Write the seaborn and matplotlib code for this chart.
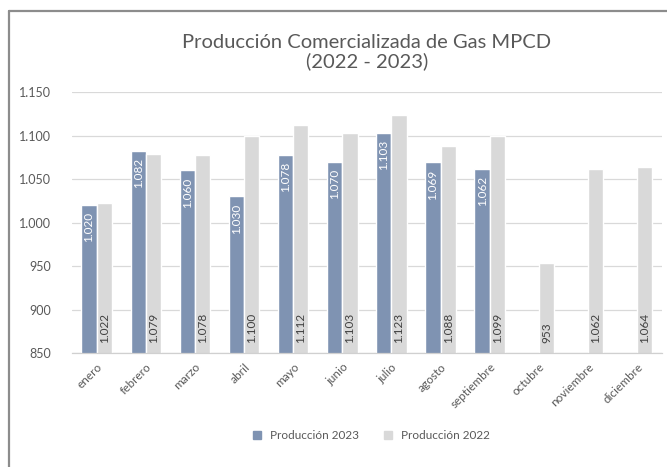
import numpy as np
import pandas as pd
import matplotlib
matplotlib.use("Agg")
import matplotlib.pyplot as plt
from matplotlib.lines import Line2D
import seaborn as sns

# data
months = ["enero", "febrero", "marzo", "abril", "mayo", "junio", "julio",
          "agosto", "septiembre", "octubre", "noviembre", "diciembre"]
prod_2023 = [1020, 1082, 1060, 1030, 1078, 1070, 1103, 1069, 1062,
             np.nan, np.nan, np.nan]
prod_2022 = [1022, 1079, 1078, 1100, 1112, 1103, 1123, 1088, 1099,
             953, 1062, 1064]
series = ["Producción 2023", "Producción 2022"]
yticks = [850, 900, 950, 1000, 1050, 1100, 1150]

blue = "#7f93b2"
grey = "#d9d9d9"
text_c = "#595959"


def fmt(v):
    # spanish thousands separator
    return f"{int(v):,}".replace(",", ".")


df = pd.DataFrame({
    "mes": months * 2,
    "valor": prod_2023 + prod_2022,
    "serie": [series[0]] * 12 + [series[1]] * 12,
})

sns.set_theme(style="white")
plt.rcParams["font.family"] = ["Lato", "DejaVu Sans"]

fig = plt.figure(figsize=(6.67, 4.67), dpi=100)
ax = fig.add_axes([0.108, 0.244, 0.884, 0.559])

sns.barplot(data=df, x="mes", y="valor", hue="serie", order=months,
            hue_order=series, palette=[blue, grey], width=0.62,
            saturation=1, ax=ax, legend=False)

ax.set_ylim(850, 1150)
ax.set_xlim(-0.5, 11.5)
ax.set_yticks(yticks)
ax.set_yticklabels([fmt(v) for v in yticks], color=text_c, fontsize=9)
ax.set_xticks(range(12))
ax.set_xticklabels(months, rotation=45, ha="right", rotation_mode="anchor",
                   color=text_c, fontsize=8.5)
ax.set_xticks(np.arange(-0.5, 12, 1), minor=True)
ax.tick_params(axis="x", which="major", length=0, pad=6)
ax.tick_params(axis="x", which="minor", length=4, color="#d0d0d0", width=0.8)
ax.tick_params(axis="y", length=0, pad=15)
ax.set_xlabel("")
ax.set_ylabel("")
ax.grid(axis="y", color="#d9d9d9", linewidth=0.9)
ax.set_axisbelow(True)
for s in ["top", "right", "left"]:
    ax.spines[s].set_visible(False)
ax.spines["bottom"].set_color("#d0d0d0")
ax.spines["bottom"].set_linewidth(0.9)

# value labels inside the bars
for cont, vals in zip(ax.containers, [prod_2023, prod_2022]):
    for p, v in zip(cont.patches, vals):
        if np.isnan(v):
            continue
        xc = p.get_x() + p.get_width() / 2
        if cont is ax.containers[0]:
            ax.annotate(fmt(v), (xc, p.get_y() + p.get_height()),
                        xytext=(0, -5), textcoords="offset points",
                        rotation=90, ha="center", va="top",
                        color="white", fontsize=8.5)
        else:
            ax.annotate(fmt(v), (xc, 850), xytext=(0, 7),
                        textcoords="offset points", rotation=90,
                        ha="center", va="bottom", color="#404040",
                        fontsize=8.5)

ax.set_title("Producción Comercializada de Gas MPCD\n(2022 - 2023)",
             color=text_c, fontsize=14.5, pad=18, linespacing=1.1)

handles = [Line2D([], [], marker="s", linestyle="", markersize=5.5,
                  markerfacecolor=c, markeredgecolor=c) for c in [blue, grey]]
fig.legend(handles, series, loc="center", bbox_to_anchor=(0.551, 0.068),
           ncol=2, frameon=False, fontsize=8.5, labelcolor=text_c,
           handletextpad=0.1, columnspacing=1.5)

# outer frame of the chart area
fig.add_artist(Line2D([9 / 667, 9 / 667], [0, 1 - 11 / 467],
                      transform=fig.transFigure, color="#8c8c8c", lw=1.6))
fig.add_artist(Line2D([9 / 667, 1], [1 - 11 / 467, 1 - 11 / 467],
                      transform=fig.transFigure, color="#8c8c8c", lw=1.6))

fig.savefig("out.png", dpi=100)
